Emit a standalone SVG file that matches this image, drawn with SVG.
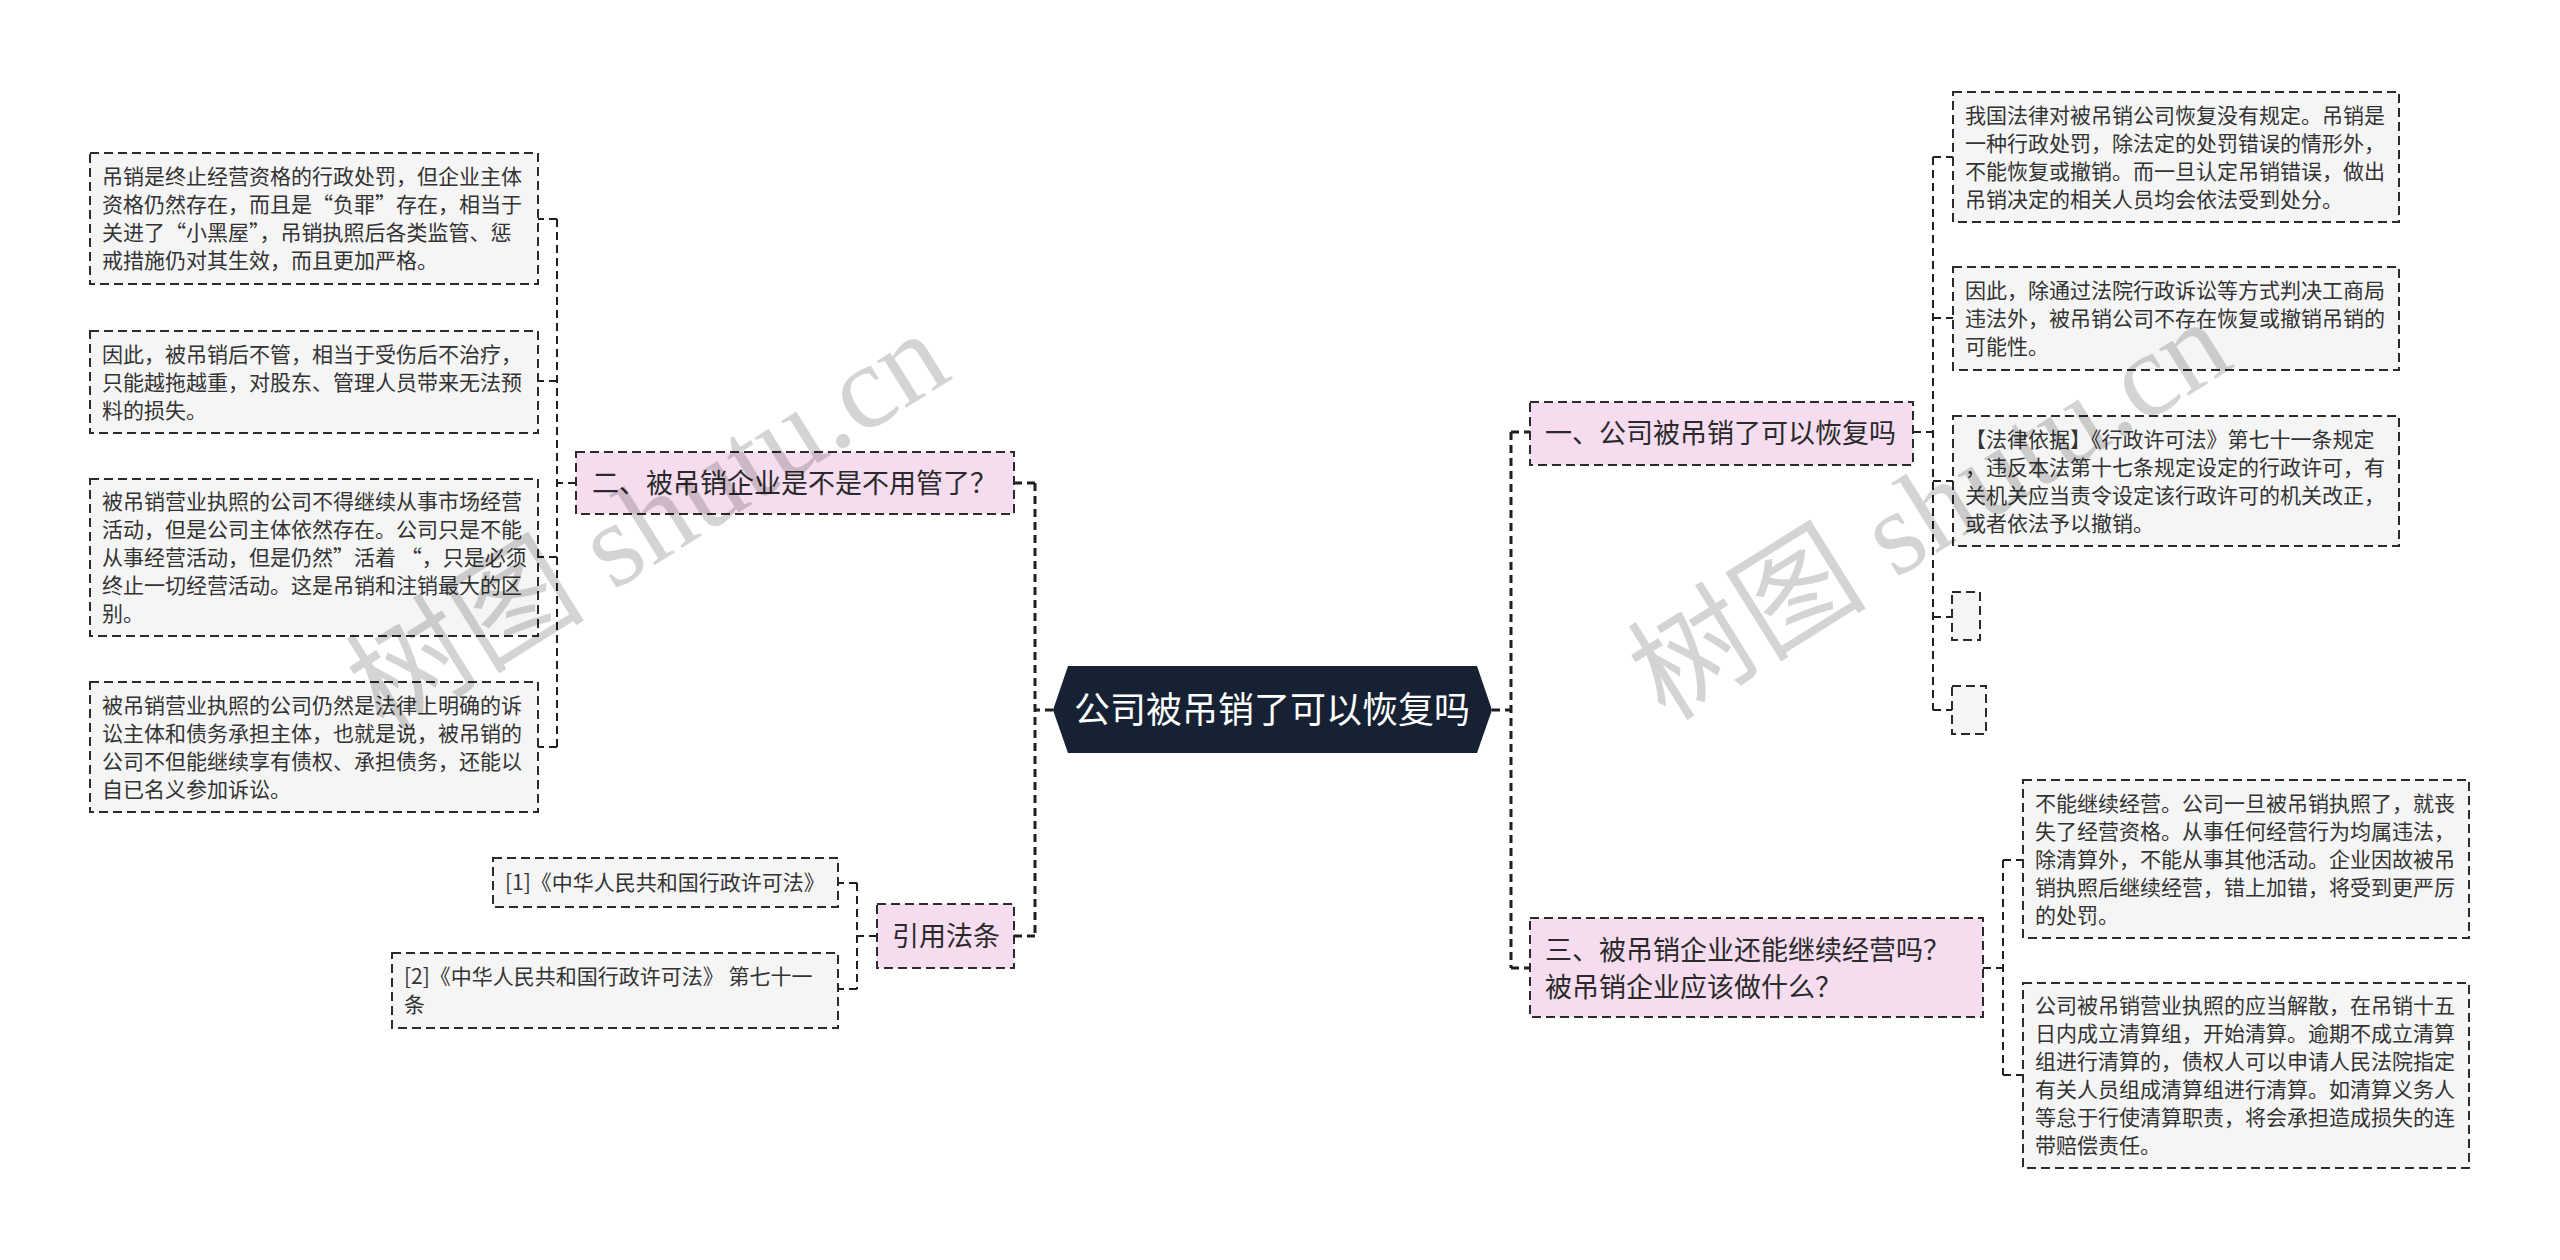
<svg xmlns="http://www.w3.org/2000/svg" width="2560" height="1260" viewBox="0 0 2560 1260">
<defs>
<style>
.leaf{fill:#f5f5f5;stroke:#2b2b2b;stroke-width:2;stroke-dasharray:9 5}
.branch{fill:#f5dcef;stroke:#2b2b2b;stroke-width:2;stroke-dasharray:9 5}
.lt{font-family:"Noto Sans CJK SC","Liberation Sans",sans-serif;font-size:21px;fill:#333}
.bt{font-family:"Noto Sans CJK SC","Liberation Sans",sans-serif;font-size:27px;fill:#2a2a2a}
.ct{font-family:"Noto Sans CJK SC","Liberation Sans",sans-serif;font-size:36px;fill:#ffffff}
.conn{fill:none;stroke:#1f1f1f;stroke-width:2;stroke-dasharray:8 5}
.main{fill:none;stroke:#1f1f1f;stroke-width:3;stroke-dasharray:8 5}
.wm{font-family:"Liberation Serif","Noto Sans CJK SC",serif;font-size:120px;fill:#000;fill-opacity:0.17}
</style>
</defs>
<rect width="2560" height="1260" fill="#ffffff"/>

<g id="connectors">
<path class="main" d="M1053 710 H1035 M1035 483 V936 M1035 483 H1014 M1035 936 H1014"/>
<path class="main" d="M1492 710 H1511 M1511 432 V968 M1511 432 H1530 M1511 968 H1530"/>
<path class="conn" d="M576 483 H557 M557 219 V747 M557 219 H538 M557 381 H538 M557 557 H538 M557 747 H538"/>
<path class="conn" d="M877 936 H857 M857 883 V989 M857 883 H838 M857 989 H838"/>
<path class="conn" d="M1913 432 H1933 M1933 157 V710 M1933 157 H1953 M1933 318 H1953 M1933 481 H1953 M1933 617 H1952 M1933 710 H1952"/>
<path class="conn" d="M1983 968 H2003 M2003 860 V1075 M2003 860 H2023 M2003 1075 H2023"/>
</g>

<g id="center">
<polygon points="1053,710 1068,666 1477,666 1492,710 1477,753 1068,753" fill="#162233"/>
<text class="ct" x="1272" y="723" text-anchor="middle">公司被吊销了可以恢复吗</text>
</g>

<g id="branch2">
<rect class="branch" x="576" y="452" width="438" height="62"/>
<text class="bt" x="592" y="493">二、被吊销企业是不是不用管了？</text>
</g>

<g id="leafA">
<rect class="leaf" x="90" y="153" width="448" height="131"/>
<text class="lt"><tspan x="102" y="184">吊销是终止经营资格的行政处罚，但企业主体</tspan><tspan x="102" y="212">资格仍然存在，而且是“负罪”存在，相当于</tspan><tspan x="102" y="240">关进了“小黑屋”，吊销执照后各类监管、惩</tspan><tspan x="102" y="268">戒措施仍对其生效，而且更加严格。</tspan></text>
</g>
<g id="leafB">
<rect class="leaf" x="90" y="331" width="448" height="102"/>
<text class="lt"><tspan x="102" y="362">因此，被吊销后不管，相当于受伤后不治疗，</tspan><tspan x="102" y="390">只能越拖越重，对股东、管理人员带来无法预</tspan><tspan x="102" y="418">料的损失。</tspan></text>
</g>
<g id="leafC">
<rect class="leaf" x="90" y="479" width="448" height="157"/>
<text class="lt"><tspan x="102" y="509">被吊销营业执照的公司不得继续从事市场经营</tspan><tspan x="102" y="537">活动，但是公司主体依然存在。公司只是不能</tspan><tspan x="102" y="565">从事经营活动，但是仍然”活着 “，只是必须</tspan><tspan x="102" y="593">终止一切经营活动。这是吊销和注销最大的区</tspan><tspan x="102" y="621">别。</tspan></text>
</g>
<g id="leafD">
<rect class="leaf" x="90" y="682" width="448" height="130"/>
<text class="lt"><tspan x="102" y="713">被吊销营业执照的公司仍然是法律上明确的诉</tspan><tspan x="102" y="741">讼主体和债务承担主体，也就是说，被吊销的</tspan><tspan x="102" y="769">公司不但能继续享有债权、承担债务，还能以</tspan><tspan x="102" y="797">自已名义参加诉讼。</tspan></text>
</g>

<g id="cite">
<rect class="branch" x="877" y="904" width="137" height="64"/>
<text class="bt" x="892" y="946">引用法条</text>
</g>
<g id="cite1">
<rect class="leaf" x="493" y="858" width="345" height="49"/>
<text class="lt" x="505" y="890">[1]《中华人民共和国行政许可法》</text>
</g>
<g id="cite2">
<rect class="leaf" x="392" y="953" width="446" height="75"/>
<text class="lt"><tspan x="404" y="984">[2]《中华人民共和国行政许可法》 第七十一</tspan><tspan x="404" y="1012">条</tspan></text>
</g>

<g id="branch1">
<rect class="branch" x="1530" y="402" width="383" height="63"/>
<text class="bt" x="1545" y="443">一、公司被吊销了可以恢复吗</text>
</g>
<g id="leafR1">
<rect class="leaf" x="1953" y="92" width="446" height="130"/>
<text class="lt"><tspan x="1965" y="123">我国法律对被吊销公司恢复没有规定。吊销是</tspan><tspan x="1965" y="151">一种行政处罚，除法定的处罚错误的情形外，</tspan><tspan x="1965" y="179">不能恢复或撤销。而一旦认定吊销错误，做出</tspan><tspan x="1965" y="207">吊销决定的相关人员均会依法受到处分。</tspan></text>
</g>
<g id="leafR2">
<rect class="leaf" x="1953" y="267" width="446" height="103"/>
<text class="lt"><tspan x="1965" y="298">因此，除通过法院行政诉讼等方式判决工商局</tspan><tspan x="1965" y="326">违法外，被吊销公司不存在恢复或撤销吊销的</tspan><tspan x="1965" y="354">可能性。</tspan></text>
</g>
<g id="leafR3">
<rect class="leaf" x="1953" y="416" width="446" height="130"/>
<text class="lt"><tspan x="1965" y="447">【法律依据】《行政许可法》第七十一条规定</tspan><tspan x="1965" y="475">，违反本法第十七条规定设定的行政许可，有</tspan><tspan x="1965" y="503">关机关应当责令设定该行政许可的机关改正，</tspan><tspan x="1965" y="531">或者依法予以撤销。</tspan></text>
</g>
<g id="leafR4">
<rect class="leaf" x="1952" y="592" width="28" height="48"/>
</g>
<g id="leafR5">
<rect class="leaf" x="1952" y="686" width="34" height="48"/>
</g>

<g id="branch3">
<rect class="branch" x="1530" y="918" width="453" height="99"/>
<text class="bt"><tspan x="1545" y="960">三、被吊销企业还能继续经营吗？</tspan><tspan x="1545" y="997">被吊销企业应该做什么？</tspan></text>
</g>
<g id="leafR6">
<rect class="leaf" x="2023" y="780" width="446" height="158"/>
<text class="lt"><tspan x="2035" y="811">不能继续经营。公司一旦被吊销执照了，就丧</tspan><tspan x="2035" y="839">失了经营资格。从事任何经营行为均属违法，</tspan><tspan x="2035" y="867">除清算外，不能从事其他活动。企业因故被吊</tspan><tspan x="2035" y="895">销执照后继续经营，错上加错，将受到更严厉</tspan><tspan x="2035" y="923">的处罚。</tspan></text>
</g>
<g id="leafR7">
<rect class="leaf" x="2023" y="983" width="446" height="185"/>
<text class="lt"><tspan x="2035" y="1013">公司被吊销营业执照的应当解散，在吊销十五</tspan><tspan x="2035" y="1041">日内成立清算组，开始清算。逾期不成立清算</tspan><tspan x="2035" y="1069">组进行清算的，债权人可以申请人民法院指定</tspan><tspan x="2035" y="1097">有关人员组成清算组进行清算。如清算义务人</tspan><tspan x="2035" y="1125">等怠于行使清算职责，将会承担造成损失的连</tspan><tspan x="2035" y="1153">带赔偿责任。</tspan></text>
</g>

<g id="watermarks">
<text class="wm" x="648" y="562" text-anchor="middle" transform="rotate(-32 648 522)">树图 shutu.cn</text>
<text class="wm" x="1930" y="550" text-anchor="middle" transform="rotate(-32 1930 510)">树图 shutu.cn</text>
</g>
</svg>
